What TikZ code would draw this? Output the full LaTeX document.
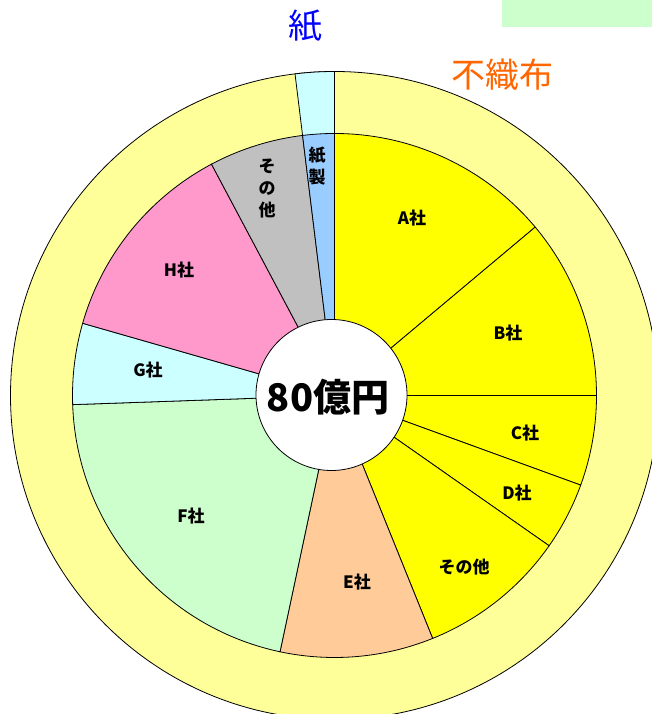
\documentclass[tikz,border=0pt]{standalone}
\usepackage{fontspec}
\newfontfamily\jp{Noto Sans CJK JP}
\definecolor{ringyellow}{HTML}{FFFF99}
\definecolor{papercyan}{HTML}{CCFFFF}
\definecolor{segyellow}{HTML}{FFFF00}
\definecolor{segpeach}{HTML}{FFCC99}
\definecolor{seggreen}{HTML}{CCFFCC}
\definecolor{segpink}{HTML}{FF99CC}
\definecolor{seggrey}{HTML}{C0C0C0}
\definecolor{segblue}{HTML}{99CCFF}
\definecolor{titleblue}{HTML}{0000FF}
\definecolor{titleorange}{HTML}{FF6600}
\newcommand\mysector[4]{%
  \filldraw[sectorline, fill=#1] (O) -- ++({90-#2}:#4) arc[start angle={90-#2}, end angle={90-#3}, radius=#4] -- cycle;}
\begin{document}
\begin{tikzpicture}[x=1pt,y=1pt,
  sectorline/.style={draw=black, line width=0.8pt},
  seglabel/.style={font=\jp\bfseries\fontsize{17}{22}\selectfont, inner sep=0pt, align=center},
  title/.style={font=\jp\fontsize{34}{34}\selectfont, inner sep=0pt}]
\useasboundingbox (0,0) rectangle (652,714);
\clip (0,0) rectangle (652,714);
\fill[white] (0,0) rectangle (652,714);
\coordinate (O) at (334.5,318.5);
% legend box
\node[fill=seggreen, minimum width=150pt, minimum height=27pt, inner sep=0pt, anchor=north east] (legend) at (652,714) {};
% outer ring
\filldraw[sectorline, fill=ringyellow] (O) circle[radius=324];
\mysector{papercyan}{353}{360}{324}
% inner pie
\mysector{segyellow}{0}{50}{262}
\mysector{segyellow}{50}{90}{262}
\mysector{segyellow}{90}{110}{262}
\mysector{segyellow}{110}{125}{262}
\mysector{segyellow}{125}{158}{262}
\mysector{segpeach}{158}{192}{262}
\mysector{seggreen}{192}{268}{262}
\mysector{papercyan}{268}{286}{262}
\mysector{segpink}{286}{332}{262}
\mysector{seggrey}{332}{353}{262}
\mysector{segblue}{353}{360}{262}
% center
\node[circle, draw=black, line width=0.8pt, fill=white, minimum size=151pt, inner sep=0pt] (hub) at (331.5,319) {};
\node[font=\jp\bfseries\fontsize{38}{38}\selectfont, inner sep=0pt] (total) at (328,317) {80億円};
% labels
\node[seglabel] (la) at (412,496) {A社};
\node[seglabel] (lb) at (508,381) {B社};
\node[seglabel] (lc) at (525,281) {C社};
\node[seglabel] (ld) at (517,221) {D社};
\node[seglabel] (lo) at (464,147) {その他};
\node[seglabel] (le) at (357,132) {E社};
\node[seglabel] (lf) at (191,198) {F社};
\node[seglabel] (lg) at (148,344) {G社};
\node[seglabel] (lh) at (179,444) {H社};
\node[seglabel] (lo2) at (267,526) {そ\\の\\他};
\node[seglabel] (lp) at (317,548) {紙\\製};
\node[title, text=titleblue] (tpaper) at (305,688) {紙};
\node[title, text=titleorange] (tnw) at (502,639) {不織布};
\end{tikzpicture}
\end{document}
